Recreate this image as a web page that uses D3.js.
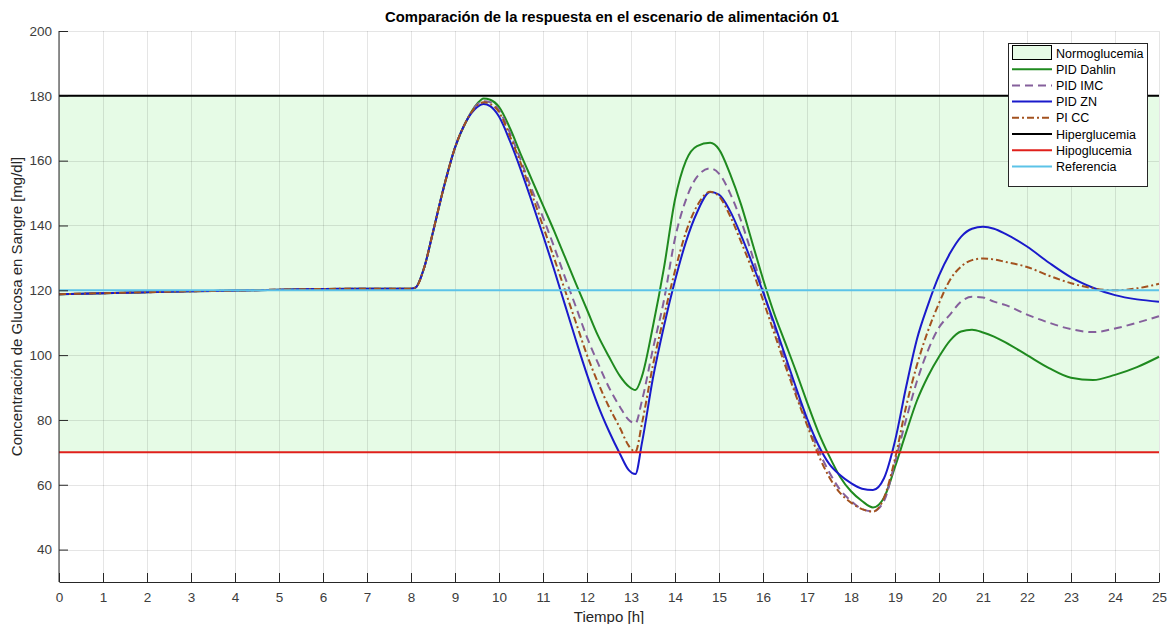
<!DOCTYPE html>
<html>
<head>
<meta charset="utf-8">
<script src="https://cdn.jsdelivr.net/npm/d3@7"></script>
<style>
  html, body { margin: 0; padding: 0; background: #fff; }
  svg { display: block; font-family: "Liberation Sans", Arial, sans-serif; }
</style>
</head>
<body>
<svg id="chart" width="1173" height="624"></svg>
<script>
// Time grid [h]
const hours = [0, 1, 2, 3, 4, 5, 6, 7, 8, 8.1, 8.3, 8.5, 8.75, 9, 9.25, 9.5, 9.65, 9.8, 10,
  10.25, 10.5, 10.75, 11, 11.25, 11.5, 11.75, 12, 12.25, 12.5, 12.75, 12.95, 13.1, 13.25, 13.5,
  13.75, 14, 14.25, 14.5, 14.8, 15, 15.25, 15.5, 15.75, 16, 16.25, 16.5, 16.75, 17, 17.25, 17.5,
  17.75, 18, 18.25, 18.5, 18.75, 19, 19.25, 19.5, 19.75, 20, 20.25, 20.5, 20.75, 21, 21.25, 21.5,
  22, 22.5, 23, 23.5, 24, 24.5, 25];

// Glucose [mg/dl] for each controller
const pidDahlin = [118.8, 119.1, 119.4, 119.7, 119.9, 120.2, 120.4, 120.5, 120.5, 120.8, 127, 138, 152, 164, 172, 177.5, 179.2, 178.8, 176.6,
  170, 161.8, 154, 146.2, 138.4, 130.2, 122, 114, 106, 99.5, 93.5, 90.3, 89.2, 93.5, 109,
  127, 148, 160, 164.5, 165.5, 163.5, 156, 146.5, 135, 123.5, 113, 104, 95, 85.5, 76.5, 69,
  62.5, 58, 55, 53, 56, 65.5, 76, 86, 93.5, 99.5, 104.5, 107.3, 107.8, 107, 105.7, 104,
  100, 96, 93, 92.3, 93.9, 96.3, 99.5];

const pidIMC = [118.8, 119.1, 119.4, 119.7, 119.9, 120.2, 120.4, 120.5, 120.5, 120.8, 127, 138, 152, 164, 172, 177.3, 178.3, 178, 175.5,
  168.5, 160, 151, 142.5, 133.5, 124, 114.8, 105.5, 97.5, 90, 84, 80, 79, 86, 102,
  117, 136, 148, 155, 157.6, 156, 150, 141.5, 131, 120, 109, 98.5, 88.5, 79.5, 71, 64,
  58.5, 55, 52.5, 51.8, 55, 67, 80, 92, 101.5, 108.5, 112.5, 116.5, 118, 117.8, 116.5, 115.5,
  112.5, 110, 108, 107.1, 108.2, 110, 112];

const pidZN = [118.8, 119.1, 119.4, 119.7, 119.9, 120.2, 120.4, 120.5, 120.5, 120.8, 127, 138, 152, 164, 172, 176.5, 177.5, 176.8, 173.6,
  166, 157, 147.2, 137, 126.5, 115.5, 104.5, 94, 84.5, 76.5, 69.5, 64.5, 63.3, 73, 93,
  109, 123, 135, 144, 150.3, 149.5, 144.5, 137, 128.5, 119.5, 110, 100, 90, 80.5, 72.5, 66.5,
  63, 60.5, 58.8, 58.4, 62, 73.5, 90, 105, 115.5, 124.5, 131.4, 136.5, 139, 139.6, 139, 137.5,
  133.5, 128.5, 124, 120.8, 118.5, 117.2, 116.5];

const piCC = [118.8, 119.1, 119.4, 119.7, 119.9, 120.2, 120.4, 120.5, 120.5, 120.8, 127, 138, 152, 164, 172, 177, 178, 177.5, 175,
  167.5, 159, 149.5, 139.8, 130, 120, 110, 100, 91.5, 84, 77.5, 72, 70.2, 79, 97,
  112, 126, 138, 146, 150.4, 149, 143, 135, 126.5, 117, 107, 97, 87.5, 78.5, 69.5, 62.5,
  57.5, 54.5, 52.5, 51.7, 56, 68, 84, 97, 107.5, 116, 123.2, 127.3, 129.3, 129.8, 129.5, 128.8,
  127.2, 124.5, 122.2, 120.6, 120, 120.6, 122];

// Limits [mg/dl]
const hyperLimit = 180;
const hypoLimit = 70;
const reference = 120;

// Axis ticks
const xTicks = d3.range(0, 26, 1);
const yTicks = [40, 60, 80, 100, 120, 140, 160, 180, 200];

const legendLabels = ["Normoglucemia", "PID Dahlin", "PID IMC", "PID ZN", "PI CC", "Hiperglucemia", "Hipoglucemia", "Referencia"];

const title = "Comparación de la respuesta en el escenario de alimentación 01";
const xLabel = "Tiempo [h]";
const yLabel = "Concentración de Glucosa en Sangre [mg/dl]";

// ---- layout ----
const plot = { left: 59, right: 1159, top: 31, bottom: 582 };
const svg = d3.select("#chart");

const x = d3.scaleLinear().domain([0, 25]).range([plot.left, plot.right]);
const y = d3.scaleLinear().domain([30, 200]).range([plot.bottom, plot.top]);

const styles = {
  dahlin: { color: "#1f8a1f", dash: null },
  imc: { color: "#85609c", dash: "8,5" },
  zn: { color: "#1a1acb", dash: null },
  cc: { color: "#a3521f", dash: "7,3,2,3" },
  hyper: { color: "#000000" },
  hypo: { color: "#e0201b" },
  ref: { color: "#5cc3e8" }
};

// normoglycemia band
svg.append("rect")
  .attr("x", x(0)).attr("y", y(hyperLimit))
  .attr("width", x(25) - x(0)).attr("height", y(hypoLimit) - y(hyperLimit))
  .attr("fill", "#e6fbe6");

// grid
const grid = svg.append("g").attr("stroke", "#000").attr("stroke-opacity", 0.1).attr("stroke-width", 1);
xTicks.forEach(t => grid.append("line")
  .attr("x1", Math.round(x(t)) + 0.5).attr("x2", Math.round(x(t)) + 0.5)
  .attr("y1", plot.top).attr("y2", plot.bottom));
yTicks.forEach(v => grid.append("line")
  .attr("x1", plot.left).attr("x2", plot.right)
  .attr("y1", Math.round(y(v)) + 0.5).attr("y2", Math.round(y(v)) + 0.5));

// response curves
const line = d3.line()
  .x((d, i) => x(hours[i]))
  .y(d => y(d))
  .curve(d3.curveMonotoneX);

const curves = [
  { data: pidDahlin, s: styles.dahlin },
  { data: pidIMC, s: styles.imc },
  { data: pidZN, s: styles.zn },
  { data: piCC, s: styles.cc }
];
curves.forEach(c => {
  svg.append("path")
    .attr("d", line(c.data))
    .attr("fill", "none")
    .attr("stroke", c.s.color)
    .attr("stroke-width", 2)
    .attr("stroke-dasharray", c.s.dash);
});

// limit lines
[[hyperLimit, styles.hyper], [hypoLimit, styles.hypo], [reference, styles.ref]].forEach(([v, s]) => {
  svg.append("line")
    .attr("x1", x(0)).attr("x2", x(25))
    .attr("y1", y(v)).attr("y2", y(v))
    .attr("stroke", s.color).attr("stroke-width", 2);
});

// axes (inward ticks, no box)
const axisColor = "#262626";
const xAxis = svg.append("g").attr("transform", `translate(0,${plot.bottom})`)
  .call(d3.axisBottom(x).tickValues(xTicks).tickFormat(d3.format("d")).tickSizeInner(-9).tickSizeOuter(0).tickPadding(10));
const yAxis = svg.append("g").attr("transform", `translate(${plot.left},0)`)
  .call(d3.axisLeft(y).tickValues(yTicks).tickFormat(d3.format("d")).tickSizeInner(-9).tickSizeOuter(0).tickPadding(7));
[xAxis, yAxis].forEach(a => {
  a.select(".domain").attr("stroke", axisColor).attr("stroke-width", 1);
  a.selectAll(".tick line").attr("stroke", axisColor);
  a.selectAll(".tick text").attr("fill", "#3c3c3c").style("font-size", "13.5px")
    .style("font-family", "'Liberation Sans', Arial, sans-serif");
});
yAxis.select(".domain").attr("d", `M0,${plot.bottom}V${plot.top}`);

// titles
svg.append("text")
  .attr("x", (plot.left + plot.right) / 2 + 3).attr("y", 22)
  .attr("text-anchor", "middle")
  .style("font-size", "14.8px").style("font-weight", "bold")
  .attr("fill", "#000")
  .text(title);

svg.append("text")
  .attr("x", (plot.left + plot.right) / 2).attr("y", 622)
  .attr("text-anchor", "middle")
  .style("font-size", "15px").attr("fill", "#262626")
  .text(xLabel);

svg.append("text")
  .attr("transform", `translate(22,${(plot.top + plot.bottom) / 2}) rotate(-90)`)
  .attr("text-anchor", "middle")
  .style("font-size", "15px").attr("fill", "#262626")
  .text(yLabel);

// legend
const lg = { x: 1008, y: 43, w: 139, h: 143, row: 16.2, first: 53 };
const legend = svg.append("g");
legend.append("rect")
  .attr("x", lg.x + 0.5).attr("y", lg.y + 0.5).attr("width", lg.w).attr("height", lg.h)
  .attr("fill", "#fff").attr("stroke", "#262626").attr("stroke-width", 1);

const legendStyles = [null, styles.dahlin, styles.imc, styles.zn, styles.cc, styles.hyper, styles.hypo, styles.ref];
legendLabels.forEach((label, i) => {
  const cy = lg.first + i * lg.row;
  if (i === 0) {
    legend.append("rect")
      .attr("x", 1012.5).attr("y", cy - 7.5).attr("width", 39).attr("height", 14)
      .attr("fill", "#e6fbe6").attr("stroke", "#000").attr("stroke-width", 1);
  } else {
    const s = legendStyles[i];
    legend.append("line")
      .attr("x1", 1012).attr("x2", 1052).attr("y1", cy).attr("y2", cy)
      .attr("stroke", s.color).attr("stroke-width", 2)
      .attr("stroke-dasharray", s.dash || null);
  }
  legend.append("text")
    .attr("x", 1056).attr("y", cy + 4.5)
    .style("font-size", "12.5px").attr("fill", "#000")
    .text(label);
});
</script>
</body>
</html>
